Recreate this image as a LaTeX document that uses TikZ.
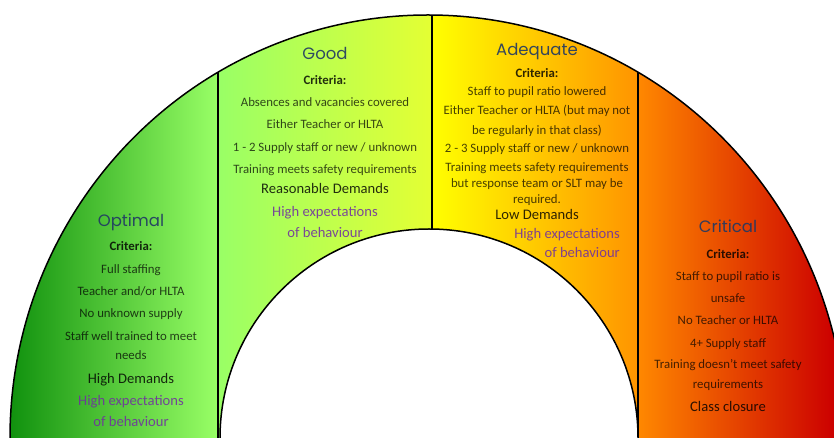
\documentclass[tikz,border=0pt]{standalone}
\usepackage{fontspec}
\setmainfont{Carlito}
\newfontfamily\titlefont{Poppins}
\definecolor{bandnavy}{RGB}{32,56,100}
\definecolor{bandpurple}{RGB}{112,48,160}
\definecolor{optdark}{RGB}{10,140,10}
\definecolor{optlight}{RGB}{153,255,102}
\definecolor{goodright}{RGB}{228,255,51}
\definecolor{adqmid}{RGB}{255,204,0}
\definecolor{adqright}{RGB}{255,148,0}
\definecolor{critleft}{RGB}{255,136,0}
\definecolor{critmid}{RGB}{240,64,0}
\definecolor{critright}{RGB}{204,0,0}
\usepackage{tikz}

\begin{document}
\begin{tikzpicture}[x=1pt, y=1pt,
    txt/.style={inner sep=0pt, text height=0.72em, text depth=0.2em},
    title/.style={txt, font=\titlefont\fontsize{16.5}{18}\selectfont, text=bandnavy, text opacity=0.9},
    crit/.style={txt, font=\bfseries\fontsize{12.8}{15}\selectfont, text=black, text opacity=0.82},
    body/.style={txt, font=\fontsize{12.8}{15}\selectfont, text=black, text opacity=0.72},
    demand/.style={txt, font=\fontsize{14.6}{17}\selectfont, text=black, text opacity=0.82},
    expect/.style={txt, font=\fontsize{14.6}{17}\selectfont, text=bandpurple, text opacity=0.88}]
    \useasboundingbox (0,0) rectangle (834,438);
    \begin{scope}
        \clip (0,0) rectangle (834,438);
        % coloured band
        \begin{scope}
            \clip (10,0) arc[start angle=180, end angle=0, x radius=418, y radius=423]
                -- (638,0) arc[start angle=0, end angle=180, radius=209] -- cycle;
            \shade[left color=optdark, right color=optlight] (0,0) rectangle (218,438);
            \shade[left color=optlight, right color=goodright] (218,0) rectangle (432,438);
            \shade[left color=yellow, middle color=adqmid, right color=adqright] (432,0) rectangle (638,438);
            \shade[left color=critleft, middle color=critmid, right color=critright] (638,0) rectangle (834,438);
            \foreach \x in {218,432,638}
                \draw[line width=1.5] (\x,0) -- (\x,438);
        \end{scope}
        \draw[line width=1.5] (10,0) arc[start angle=180, end angle=0, x radius=418, y radius=423];
        \draw[line width=1.5] (638,0) arc[start angle=0, end angle=180, radius=209];
    \end{scope}

    % Optimal
    \node[title] (optimal) at (131,214) {Optimal};
    \node[crit] (optimal-crit) at (131,190) {Criteria:};
    \foreach \y/\t [count=\i] in {167/Full staffing, 145/{Teacher and/or HLTA}, 123/No unknown supply,
        100/Staff well trained to meet, 81/needs}
        \node[body] (optimal-\i) at (131,\y) {\t};
    \node[demand] (optimal-demand) at (131,57) {High Demands};
    \node[expect] (optimal-expect) at (131,35) {High expectations};
    \node[expect] (optimal-behaviour) at (131,14) {of behaviour};

    % Good
    \node[title] (good) at (325,381) {Good};
    \node[crit] (good-crit) at (325,356) {Criteria:};
    \foreach \y/\t [count=\i] in {334/Absences and vacancies covered, 312/Either Teacher or HLTA,
        289/{1 - 2 Supply staff or new / unknown}, 267/Training meets safety requirements}
        \node[body] (good-\i) at (325,\y) {\t};
    \node[demand] (good-demand) at (325,247) {Reasonable Demands};
    \node[expect] (good-expect) at (325,224) {High expectations};
    \node[expect] (good-behaviour) at (325,203) {of behaviour};

    % Adequate
    \node[title] (adequate) at (537,385) {Adequate};
    \node[crit] (adequate-crit) at (537,363) {Criteria:};
    \foreach \y/\t [count=\i] in {345/Staff to pupil ratio lowered, 326/Either Teacher or HLTA (but may not,
        306/be regularly in that class), 288/{2 - 3 Supply staff or new / unknown},
        269/Training meets safety requirements, 253/but response team or SLT may be, 237/required.}
        \node[body] (adequate-\i) at (537,\y) {\t};
    \node[demand] (adequate-demand) at (537,221) {Low Demands};
    \node[expect, anchor=east] (adequate-expect) at (620,202) {High expectations};
    \node[expect, anchor=east] (adequate-behaviour) at (620,183) {of behaviour};

    % Critical
    \node[title] (critical) at (728,208) {Critical};
    \node[crit] (critical-crit) at (728,182) {Criteria:};
    \foreach \y/\t [count=\i] in {160/Staff to pupil ratio is, 138/unsafe, 116/No Teacher or HLTA,
        93/4+ Supply staff, 72/Training doesn't meet safety, 52/requirements}
        \node[body] (critical-\i) at (728,\y) {\t};
    \node[demand] (critical-demand) at (728,29) {Class closure};
\end{tikzpicture}
\end{document}
